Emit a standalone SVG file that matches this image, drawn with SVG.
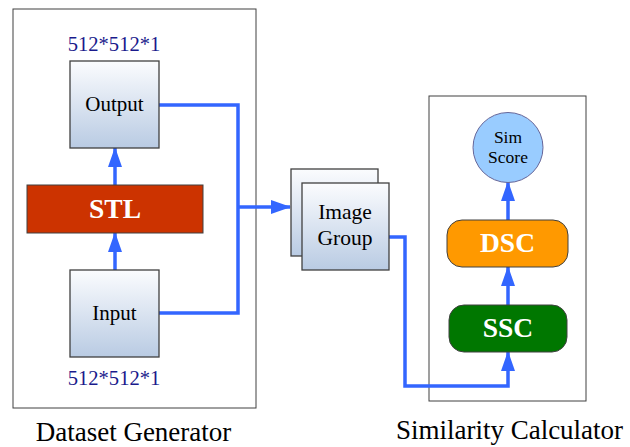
<svg xmlns="http://www.w3.org/2000/svg" width="630" height="447" viewBox="0 0 630 447">
<defs>
<linearGradient id="g" x1="0" y1="0" x2="0" y2="1">
<stop offset="0" stop-color="#fbfcfe"/>
<stop offset="1" stop-color="#b9cbe3"/>
</linearGradient>
<marker id="ah" viewBox="0 0 20 14" refX="19" refY="7" markerWidth="20" markerHeight="14" markerUnits="userSpaceOnUse" orient="auto">
<path d="M0,0 L20,7 L0,14 Z" fill="#3366ff"/>
</marker>
</defs>
<style>
.frame{fill:#fff;stroke:#404040;stroke-width:1}
.box{fill:url(#g);stroke:#404040;stroke-width:1.3}
text{font-family:'Liberation Serif','Times New Roman',Times,'DejaVu Serif',serif}
.t{fill:#000;text-anchor:middle}
.lbl{fill:#000;text-anchor:middle;font-size:27px}
.dim{fill:#1a1a8c;text-anchor:middle;font-size:20.6px}
.big{font-weight:bold;fill:#fff;text-anchor:middle;font-size:27.5px}
.c{fill:none;stroke:#3366ff;stroke-width:3.5}
</style>
<g id="dataset-generator">
<rect class="frame" x="13" y="9" width="243" height="399"/>
<text class="lbl" x="133.5" y="441">Dataset Generator</text>
</g>
<g id="similarity-calculator">
<rect class="frame" x="429" y="96" width="157" height="305"/>
<text class="lbl" x="509.5" y="439">Similarity Calculator</text>
</g>
<g id="connectors">
<polyline class="c" points="159,105 238,105 238,313 159,313"/>
<line class="c" x1="238" y1="207" x2="290" y2="207" marker-end="url(#ah)"/>
<line class="c" x1="115" y1="270" x2="115" y2="233" marker-end="url(#ah)"/>
<line class="c" x1="115" y1="185" x2="115" y2="148" marker-end="url(#ah)"/>
<polyline class="c" points="389,237 405,237 405,386 508,386 508,352" marker-end="url(#ah)"/>
<line class="c" x1="508" y1="305" x2="508" y2="267" marker-end="url(#ah)"/>
<line class="c" x1="508" y1="220" x2="508" y2="182" marker-end="url(#ah)"/>
</g>
<g id="output">
<rect class="box" x="70" y="61" width="89" height="87"/>
<text class="t" x="114.5" y="111" font-size="21">Output</text>
<text class="dim" x="114" y="51">512*512*1</text>
</g>
<g id="stl">
<rect x="27" y="185" width="176" height="48" fill="#cc3300" stroke="#404040" stroke-width="1"/>
<text class="big" x="115" y="218">STL</text>
</g>
<g id="input">
<rect class="box" x="70" y="270" width="89" height="87"/>
<text class="t" x="114.5" y="320" font-size="21">Input</text>
<text class="dim" x="114" y="385">512*512*1</text>
</g>
<g id="image-group">
<rect class="box" x="291" y="169" width="87" height="87"/>
<rect class="box" x="302" y="183" width="87" height="87"/>
<text class="t" x="345" y="219" font-size="21.5">Image</text>
<text class="t" x="345" y="245" font-size="21.5">Group</text>
</g>
<g id="sim-score">
<circle cx="508" cy="147.5" r="35" fill="#99ccff" stroke="#666699" stroke-width="1"/>
<text class="t" x="508" y="143" font-size="17.5">Sim</text>
<text class="t" x="508" y="163" font-size="17.5">Score</text>
</g>
<g id="dsc">
<rect x="447" y="220" width="121" height="47" rx="15" fill="#ff9900" stroke="#404040" stroke-width="1"/>
<text class="big" x="507.5" y="252">DSC</text>
</g>
<g id="ssc">
<rect x="449" y="305" width="118" height="47" rx="15" fill="#007700" stroke="#404040" stroke-width="1"/>
<text class="big" x="508" y="337">SSC</text>
</g>
</svg>
